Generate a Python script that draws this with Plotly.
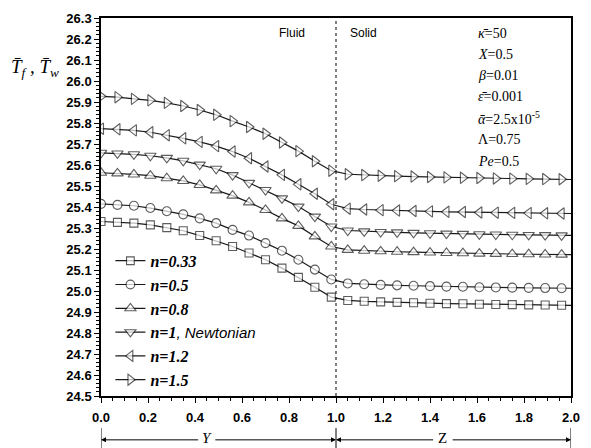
import plotly.graph_objects as go

# ---------------- data ----------------
x_fluid = [0.0, 0.07, 0.14, 0.21, 0.28, 0.35, 0.42, 0.49, 0.56, 0.63, 0.70, 0.77, 0.84, 0.91, 0.98]
x_solid = [1.05, 1.12, 1.19, 1.26, 1.33, 1.40, 1.47, 1.54, 1.61, 1.68, 1.75, 1.82, 1.89, 1.96]
x_end = 2.0

labels = ["n=0.33", "n=0.5", "n=0.8", "n=1", "n=1.2", "n=1.5"]

fluid_033 = [25.331, 25.327, 25.323, 25.315, 25.302, 25.287, 25.264, 25.239, 25.212, 25.181, 25.149, 25.109, 25.065, 25.018, 24.971]
fluid_05 = [25.415, 25.410, 25.406, 25.395, 25.380, 25.365, 25.346, 25.323, 25.291, 25.264, 25.228, 25.192, 25.149, 25.102, 25.055]
fluid_08 = [25.563, 25.560, 25.555, 25.549, 25.537, 25.524, 25.505, 25.479, 25.454, 25.422, 25.386, 25.346, 25.310, 25.260, 25.212]
fluid_1 = [25.658, 25.655, 25.651, 25.644, 25.634, 25.620, 25.602, 25.582, 25.552, 25.515, 25.481, 25.441, 25.402, 25.354, 25.307]
fluid_12 = [25.773, 25.770, 25.765, 25.756, 25.742, 25.727, 25.710, 25.690, 25.664, 25.632, 25.593, 25.553, 25.508, 25.463, 25.413]
fluid_15 = [25.927, 25.923, 25.915, 25.908, 25.896, 25.881, 25.862, 25.839, 25.809, 25.781, 25.749, 25.707, 25.666, 25.618, 25.573]

solid_033 = [24.955, 24.951, 24.948, 24.946, 24.944, 24.942, 24.940, 24.939, 24.937, 24.936, 24.935, 24.934, 24.933, 24.932]
solid_05 = [25.036, 25.032, 25.029, 25.027, 25.025, 25.023, 25.021, 25.020, 25.018, 25.017, 25.016, 25.015, 25.014, 25.013]
solid_08 = [25.196, 25.192, 25.189, 25.187, 25.185, 25.183, 25.181, 25.180, 25.178, 25.177, 25.176, 25.175, 25.174, 25.173]
solid_1 = [25.288, 25.284, 25.281, 25.279, 25.277, 25.275, 25.273, 25.272, 25.270, 25.269, 25.268, 25.267, 25.266, 25.265]
solid_12 = [25.392, 25.388, 25.385, 25.383, 25.381, 25.379, 25.377, 25.376, 25.374, 25.373, 25.372, 25.371, 25.370, 25.369]
solid_15 = [25.556, 25.552, 25.549, 25.547, 25.545, 25.543, 25.541, 25.539, 25.538, 25.536, 25.535, 25.534, 25.533, 25.532]

end_vals = [24.932, 25.013, 25.173, 25.265, 25.369, 25.531]

y_ticks = [round(24.5 + 0.1 * i, 1) for i in range(19)]
x_ticks = [round(0.2 * i, 1) for i in range(11)]

# ---------------- figure ----------------
fluids = [fluid_033, fluid_05, fluid_08, fluid_1, fluid_12, fluid_15]
solids = [solid_033, solid_05, solid_08, solid_1, solid_12, solid_15]
symbols = ["square", "circle", "triangle-up", "triangle-down", "triangle-left", "triangle-right"]
sizes = [8, 9, 10, 10, 10, 10]

fig = go.Figure()
for i in range(6):
    xs = x_fluid + x_solid + [x_end]
    ys = fluids[i] + solids[i] + [end_vals[i]]
    msize = [sizes[i]] * (len(xs) - 1) + [0]
    lab = labels[i]
    if lab == "n=1":
        name = "<b><i>n=1</i></b><span style='font-family:Liberation Sans;font-size:15px'><i>, Newtonian</i></span>"
    else:
        name = "<b><i>" + lab + "</i></b>"
    fig.add_trace(go.Scatter(
        x=xs, y=ys, mode="lines+markers", name=name, legendgroup=lab,
        line=dict(color="#1a1a1a", width=1.2),
        marker=dict(symbol=symbols[i], size=msize, color="white",
                    line=dict(color="#1a1a1a", width=1.1)),
    ))

axis_common = dict(
    showline=True, linecolor="black", linewidth=1.5, mirror=True,
    ticks="outside", ticklen=5, tickwidth=1.2, tickcolor="black",
    showgrid=False, zeroline=False,
    tickfont=dict(family="Liberation Sans", size=13, color="black", weight="bold"),
)

fig.update_xaxes(range=[0, 2], tickvals=x_ticks, ticktext=[f"{v:.1f}" for v in x_ticks],
                 minor=dict(dtick=0.05, ticks="outside", ticklen=3, tickcolor="black"),
                 ticklabelstandoff=4, **axis_common)
fig.update_yaxes(range=[24.5, 26.3], tickvals=y_ticks, ticktext=[f"{v:.1f}" for v in y_ticks],
                 minor=dict(dtick=0.02, ticks="outside", ticklen=3, tickcolor="black"),
                 **axis_common)

shapes = [
    dict(type="line", xref="x", yref="paper", x0=1, x1=1, y0=0, y1=1,
         line=dict(color="black", width=1, dash="dot")),
]
for xv in [0, 1, 2]:
    shapes.append(dict(type="line", xref="x", yref="paper", x0=xv, x1=xv, y0=-0.085, y1=-0.145,
                       line=dict(color="black", width=1)))

ann = []
yline = -0.116
for head, tail in [(0, 0.42), (1, 0.48), (1, 1.42), (2, 1.49)]:
    ann.append(dict(x=head, y=yline, xref="x", yref="paper", ax=tail, ay=0,
                    axref="x", ayref="pixel", text="", showarrow=True,
                    arrowhead=2, arrowsize=1, arrowwidth=1, arrowcolor="black", standoff=0))
ann.append(dict(x=0.45, y=yline + 0.004, xref="x", yref="paper", text="<i>Y</i>", showarrow=False,
                xanchor="center", yanchor="middle",
                font=dict(family="Liberation Serif", size=15, color="black")))
ann.append(dict(x=1.455, y=yline + 0.004, xref="x", yref="paper", text="Z", showarrow=False,
                xanchor="center", yanchor="middle",
                font=dict(family="Liberation Serif", size=15, color="black")))

ann.append(dict(x=0.814, y=(396 - 31) / 380, xref="x", yref="paper", text="Fluid", showarrow=False,
                xanchor="center", yanchor="middle",
                font=dict(family="Liberation Sans", size=12, color="black")))
ann.append(dict(x=1.115, y=(396 - 31) / 380, xref="x", yref="paper", text="Solid", showarrow=False,
                xanchor="center", yanchor="middle",
                font=dict(family="Liberation Sans", size=12, color="black")))

params = ["<i>κ̄</i>=50", "<i>X</i>=0.5", "<i>β</i>=0.01", "<i>ε̄</i>=0.001",
          "<i>ᾱ</i>=2.5x10<sup>-5</sup>", "Λ=0.75", "<i>Pe</i>=0.5"]
py = [31.7, 52.5, 73.5, 95, 116.7, 138.3, 160]
for t, yy in zip(params, py):
    ann.append(dict(x=(483 - 101) / 479, y=(396 - yy) / 380, xref="paper", yref="paper", text=t,
                    showarrow=False, xanchor="left", yanchor="middle",
                    font=dict(family="Liberation Serif", size=14, color="black")))

ann.append(dict(x=(34 - 101) / 479, y=(396 - 66) / 380, xref="paper", yref="paper",
                text="<i>T̄<sub>f</sub> , T̄<sub>w</sub></i>", showarrow=False,
                xanchor="center", yanchor="middle",
                font=dict(family="Liberation Serif", size=19, color="black")))

fig.update_layout(
    width=591, height=448, autosize=False,
    margin=dict(l=101, r=11, t=16, b=52),
    plot_bgcolor="white", paper_bgcolor="white",
    shapes=shapes, annotations=ann,
    showlegend=True,
    legend=dict(x=0.02, y=(396 - 243) / 380, xanchor="left", yanchor="top",
                bgcolor="rgba(0,0,0,0)", borderwidth=0, tracegroupgap=0,
                font=dict(family="Liberation Serif", size=16, color="black")),
)

fig.write_html("out.html")
